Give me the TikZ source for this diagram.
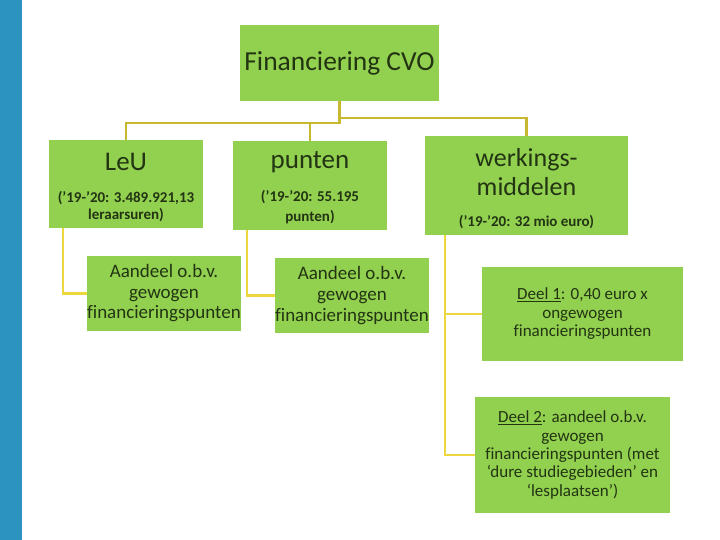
\documentclass[tikz,border=0pt]{standalone}
\usepackage{fontspec}
\setmainfont{Carlito}[Ligatures=CommonOff]
\definecolor{boxgreen}{RGB}{146,208,80}
\definecolor{txtgreen}{RGB}{34,52,18}
\definecolor{lineolive}{RGB}{200,184,48}
\definecolor{lineyellow}{RGB}{236,216,60}
\definecolor{barblue}{RGB}{44,146,192}
\begin{document}
\begin{tikzpicture}[x=1pt,y=-1pt,
  box/.style={fill=boxgreen, inner sep=0pt, text=txtgreen, align=center},
  lbl/.style={text=txtgreen, inner sep=0pt, align=center},
  conn/.style={draw=lineolive, line width=2.5pt},
  conn2/.style={draw=lineyellow, line width=2.5pt},
  big/.style={font=\fontsize{27}{29}\selectfont},
  small/.style={font=\fontsize{15}{17}\selectfont\bfseries}]

\useasboundingbox (0,0) rectangle (720,540);
\fill[barblue] (0,0) rectangle (22,540);

% boxes
\node[box, minimum width=199pt, minimum height=76pt, font=\fontsize{27.5}{33}\selectfont] (root) at (339.5,63) {Financiering CVO};

\node[box, minimum width=154pt, minimum height=88pt] (leu) at (126,184) {};
\node[lbl, big] (leut) at (126,162) {LeU};
\node[lbl, small] (leus) at (126,206.5) {(’19-’20: 3.489.921,13\\leraarsuren)};

\node[box, minimum width=154pt, minimum height=89pt] (punten) at (310,185.5) {};
\node[lbl, big] (puntent) at (310,162) {punten};
\node[lbl, font=\fontsize{15}{20}\selectfont\bfseries] (puntens) at (310,207.5) {(’19-’20: 55.195\\punten)};

\node[box, minimum width=203pt, minimum height=99pt] (werk) at (526.5,185.5) {};
\node[lbl, font=\fontsize{26}{29}\selectfont] (werkt) at (526.5,172.5) {werkings-\\middelen};
\node[lbl, small] (werks) at (526.5,222) {(’19-’20: 32 mio euro)};

\node[box, minimum width=154pt, minimum height=75pt, font=\fontsize{19}{20.5}\selectfont] (a1) at (164,293.5)
  {Aandeel o.b.v.\\gewogen\\financieringspunten};
\node[box, minimum width=154pt, minimum height=75pt, font=\fontsize{19}{21}\selectfont] (a2) at (352,295.5)
  {Aandeel o.b.v.\\gewogen\\financieringspunten};

\node[box, minimum width=201pt, minimum height=94pt, font=\fontsize{17}{18.5}\selectfont] (d1) at (582.5,314)
  {\underline{Deel 1}: 0,40 euro x\\ongewogen\\financieringspunten};
\node[box, minimum width=195pt, minimum height=116pt, font=\fontsize{17}{18.3}\selectfont] (d2) at (572.5,455)
  {\underline{Deel 2}: aandeel o.b.v.\\gewogen\\financieringspunten (met\\‘dure studiegebieden’ en\\‘lesplaatsen’)};

% upper connectors
\coordinate (j1) at (339.5,123);
\coordinate (j2) at (339.5,118);
\draw[conn] (root.south) -- (j1) -| (leu.north);
\draw[conn] (j1 -| punten.north) -- (punten.north);
\draw[conn] (j2) -| (werk.north);

% lower connectors
\coordinate (lt1) at ([xshift=14pt]leu.south west);
\coordinate (lt2) at ([xshift=14pt]punten.south west);
\coordinate (lt3) at ([xshift=20pt]werk.south west);
\draw[conn2] (lt1) |- (a1.west);
\draw[conn2] (lt2) |- (a2.west);
\draw[conn2] (lt3) |- (d1.west);
\draw[conn2] (lt3) |- (d2.west);
\end{tikzpicture}
\end{document}
